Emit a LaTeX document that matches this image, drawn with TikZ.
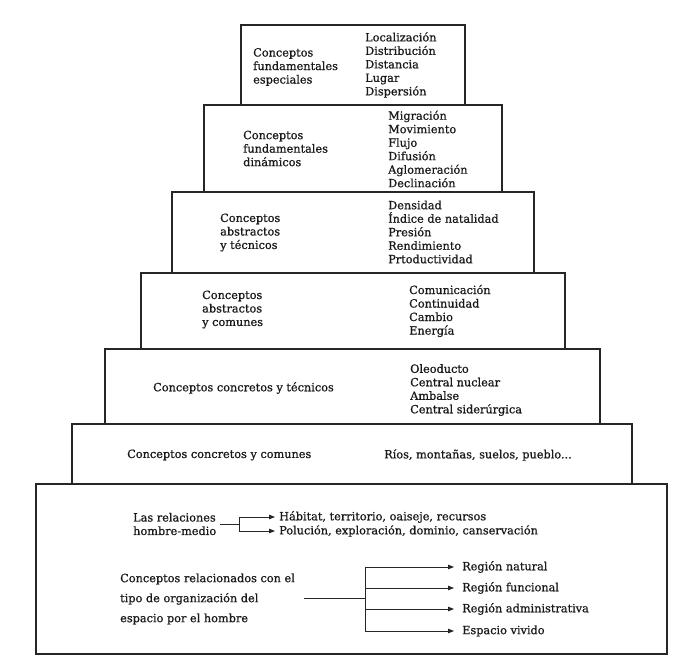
\documentclass[tikz,border=0pt]{standalone}
\usepackage{fontspec}
\setmainfont{DejaVu Serif}[FakeBold=0.8]
\usetikzlibrary{arrows.meta}

\begin{document}
\begin{tikzpicture}[x=1pt, y=-1pt, font=\fontsize{11.3}{13.5}\selectfont,
		caja/.style={draw=black!85, line width=1.1pt, inner sep=0pt},
		texto/.style={anchor=west, align=left, inner sep=0pt, text=black!90},
		flecha/.style={-{Triangle[length=6pt, width=4.5pt]}, line width=0.8pt, draw=black!85},
		rama/.style={line width=0.8pt, draw=black!85}]
		\fill[white] (0,0) rectangle (684,666);
		\useasboundingbox (0,0) rectangle (684,666);

		% Pyramid levels, top to bottom
		\node[caja, minimum width=224, minimum height=80] (b1) at (353,65) {};
		\node[caja, minimum width=298, minimum height=87] (b2) at (353,148.5) {};
		\node[caja, minimum width=362, minimum height=81] (b3) at (353,232.5) {};
		\node[caja, minimum width=424, minimum height=76] (b4) at (353,311) {};
		\node[caja, minimum width=495, minimum height=75] (b5) at (352.5,386.5) {};
		\node[caja, minimum width=560, minimum height=60] (b6) at (352,454) {};
		\node[caja, minimum width=631, minimum height=170] (b7) at (351.5,569) {};

		% Level 1
		\node[texto] (t1) at (253,67) {Conceptos\\fundamentales\\especiales};
		\node[texto] (l1) at (365,65) {Localización\\Distribución\\Distancia\\Lugar\\Dispersión};

		% Level 2
		\node[texto] (t2) at (243,148.5) {Conceptos\\fundamentales\\dinámicos};
		\node[texto] (l2) at (388,149) {Migración\\Movimiento\\Flujo\\Difusión\\Aglomeración\\Declinación};

		% Level 3
		\node[texto] (t3) at (220,232.5) {Conceptos\\abstractos\\y técnicos};
		\node[texto] (l3) at (388,232) {Densidad\\Índice de natalidad\\Presión\\Rendimiento\\Prtoductividad};

		% Level 4
		\node[texto] (t4) at (202,309.5) {Conceptos\\abstractos\\y comunes};
		\node[texto] (l4) at (409,311) {Comunicación\\Continuidad\\Cambio\\Energía};

		% Level 5
		\node[texto] (t5) at (153,388) {Conceptos concretos y técnicos};
		\node[texto] (l5) at (410,390) {Oleoducto\\Central nuclear\\Ambalse\\Central siderúrgica};

		% Level 6
		\node[texto] (t6) at (127,455) {Conceptos concretos y comunes};
		\node[texto] (l6) at (384,455) {Ríos, montañas, suelos, pueblo...};

		% Base: relaciones hombre-medio
		\node[texto] (rel) at (133,524) {Las relaciones\\hombre-medio};
		\node[texto, inner xsep=4pt] (hab) at (275,517) {Hábitat, territorio, oaiseje, recursos};
		\node[texto, inner xsep=4pt] (pol) at (275,531) {Polución, exploración, dominio, canservación};
		\coordinate (nudo1) at (239,524);
		\draw[rama] ([xshift=4pt]rel.east |- nudo1) -- (nudo1);
		\draw[rama] (nudo1 |- hab.west) -- (nudo1 |- pol.west);
		\draw[flecha] (nudo1 |- hab.west) -- (hab.west);
		\draw[flecha] (nudo1 |- pol.west) -- (pol.west);

		% Base: organizacion del espacio
		\node[texto, font=\fontsize{11.3}{20}\selectfont] (org) at (120,599) {Conceptos relacionados con el\\tipo de organización del\\espacio por el hombre};
		\node[texto, inner xsep=8pt] (r1) at (454,567) {Región natural};
		\node[texto, inner xsep=8pt] (r2) at (454,588) {Región funcional};
		\node[texto, inner xsep=8pt] (r3) at (454,609) {Región administrativa};
		\node[texto, inner xsep=8pt] (r4) at (454,631) {Espacio vivido};
		\coordinate (nudo2) at (365,598);
		\draw[rama] ([xshift=9pt]org.east |- nudo2) -- (nudo2);
		\draw[rama] (nudo2 |- r1.west) -- (nudo2 |- r4.west);
		\foreach \r in {r1,r2,r3,r4}
			\draw[flecha] (nudo2 |- \r.west) -- (\r.west);
	\end{tikzpicture}
\end{document}
